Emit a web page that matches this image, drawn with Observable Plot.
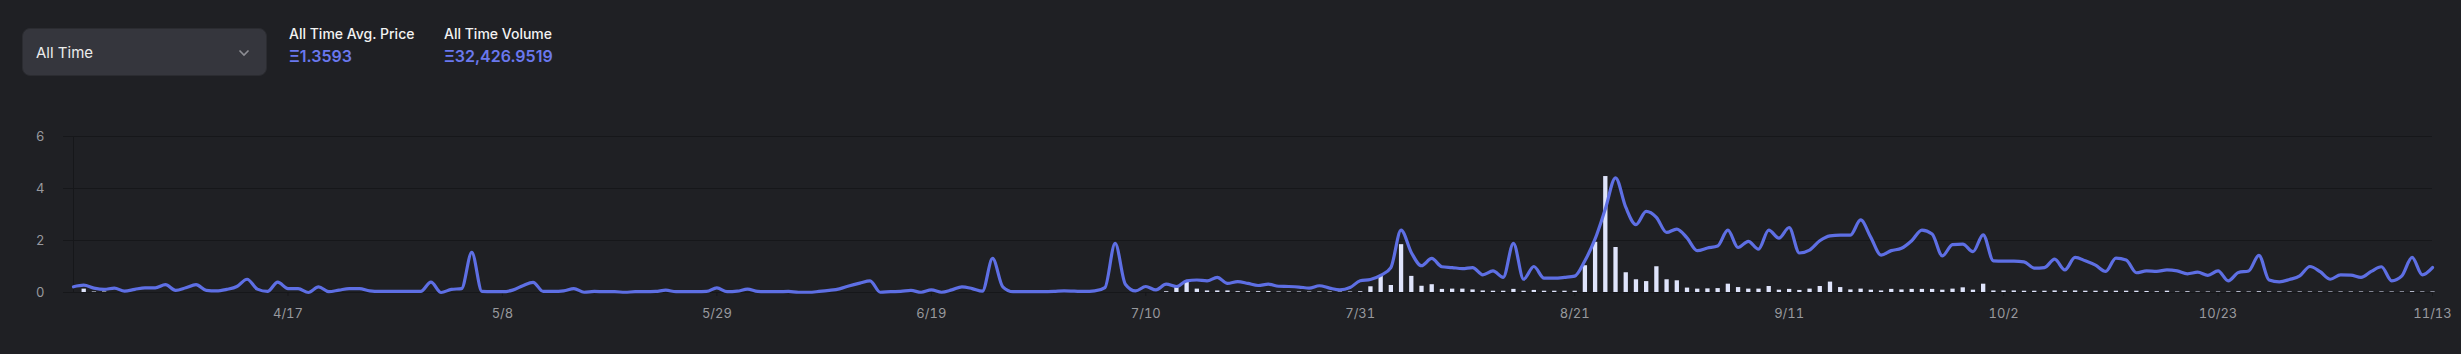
<!DOCTYPE html>
<html>
<head>
<meta charset="utf-8">
<script src="https://cdn.jsdelivr.net/npm/d3@7"></script>
<script src="https://cdn.jsdelivr.net/npm/@observablehq/plot@0.6"></script>
<style>
  html, body { margin: 0; padding: 0; background: #1f2024; overflow: hidden; }
  body { width: 2461px; height: 354px; position: relative; font-family: Inter, "Open Sans", sans-serif; }
  .dropdown { position: absolute; left: 22px; top: 28px; width: 245px; height: 48px; box-sizing: border-box;
    background: #35363d; border: 1px solid #2b2c31; border-radius: 8px; }
  .dropdown span { position: absolute; left: 13px; top: 14px; font-size: 15px; color: #ececec; line-height: 20px; }
  .dropdown svg { position: absolute; left: 215px; top: 20px; }
  .stat { position: absolute; top: 24px; }
  .stat .lab { font-size: 14px; font-weight: 500; color: #f2f2f2; line-height: 20px; }
  .stat .val { font-size: 16px; font-weight: 600; color: #6a78ee; line-height: 22px; margin-top: 1px; }
  #chart { position: absolute; left: 0; top: 100px; }
</style>
</head>
<body>
<div class="dropdown"><span>All Time</span>
  <svg width="12" height="8" viewBox="0 0 12 8"><path d="M1.5 1.5 L6 6 L10.5 1.5" fill="none" stroke="#8d8e94" stroke-width="1.6"/></svg>
</div>
<div class="stat" style="left:289px"><div class="lab">All Time Avg. Price</div><div class="val">Ξ1.3593</div></div>
<div class="stat" style="left:444px"><div class="lab">All Time Volume</div><div class="val">Ξ32,426.9519</div></div>
<div id="chart"></div>
<script>
const startDate = "2022-03-27";
const xTickDates = ["2022-04-17","2022-05-08","2022-05-29","2022-06-19","2022-07-10","2022-07-31","2022-08-21","2022-09-11","2022-10-02","2022-10-23","2022-11-13"];
const yTicks = [0, 2, 4, 6];

// daily average price (line), one value per day from startDate
const priceValues = [
  0.22,0.28,0.17,0.12,0.17,0.05,0.12,0.18,0.18,0.30,
  0.08,0.18,0.30,0.08,0.06,0.12,0.23,0.51,0.13,0.04,
  0.40,0.15,0.15,0.00,0.22,0.03,0.09,0.15,0.15,0.06,
  0.04,0.04,0.04,0.04,0.04,0.40,0.00,0.12,0.15,1.54,
  0.04,0.03,0.03,0.09,0.26,0.39,0.04,0.04,0.06,0.15,
  0.01,0.04,0.03,0.03,0.01,0.03,0.03,0.04,0.09,0.03,
  0.03,0.03,0.04,0.18,0.03,0.05,0.13,0.04,0.03,0.03,
  0.04,0.01,0.01,0.04,0.08,0.14,0.26,0.36,0.45,0.01,
  0.03,0.04,0.08,0.01,0.10,0.01,0.10,0.22,0.15,0.05,
  1.31,0.22,0.03,0.03,0.03,0.03,0.04,0.06,0.05,0.04,
  0.06,0.19,1.89,0.32,0.06,0.23,0.10,0.32,0.23,0.45,
  0.48,0.45,0.58,0.35,0.42,0.35,0.27,0.32,0.24,0.23,
  0.21,0.17,0.26,0.17,0.10,0.19,0.45,0.50,0.66,0.96,
  2.40,1.54,1.03,1.31,0.99,0.96,0.92,0.96,0.68,0.83,
  0.58,1.89,0.51,1.00,0.55,0.55,0.58,0.63,1.22,2.06,
  3.21,4.41,3.28,2.61,3.12,2.89,2.31,2.44,2.10,1.61,
  1.71,1.79,2.40,1.73,1.97,1.67,2.40,2.09,2.50,1.52,
  1.63,1.99,2.18,2.21,2.21,2.79,2.12,1.44,1.61,1.70,
  1.99,2.40,2.25,1.41,1.84,1.86,1.57,2.22,1.22,1.21,
  1.21,1.18,0.94,0.96,1.28,0.87,1.35,1.22,1.05,0.81,
  1.32,1.25,0.76,0.83,0.81,0.87,0.83,0.72,0.78,0.66,
  0.83,0.45,0.77,0.83,1.43,0.48,0.41,0.50,0.64,1.00,
  0.80,0.51,0.68,0.67,0.58,0.81,0.99,0.45,0.64,1.35,
  0.68,0.96
];

// daily volume (bars), same days
const volumeValues = [
  0,0.13,0.02,0.02,0,0,0,0,0,0,
  0,0,0,0,0,0,0,0,0,0,
  0,0,0,0,0,0,0,0,0,0,
  0,0,0,0,0,0,0,0,0,0,
  0,0,0,0,0,0,0,0,0,0,
  0,0,0,0,0,0,0,0,0,0,
  0,0,0,0,0,0,0,0,0,0,
  0,0,0,0,0,0,0,0,0,0,
  0,0,0,0,0,0,0,0,0,0,
  0,0,0,0,0,0,0,0,0,0,
  0,0,0,0,0,0,0,0.03,0.19,0.39,
  0.13,0.06,0.06,0.06,0.03,0.03,0.03,0.04,0.02,0.02,
  0.02,0.02,0.02,0.02,0.02,0.02,0.03,0.22,0.64,0.27,
  1.84,0.62,0.24,0.30,0.12,0.13,0.13,0.10,0.06,0.05,
  0.05,0.12,0.05,0.08,0.05,0.05,0.05,0.05,1.03,1.93,
  4.46,1.73,0.76,0.49,0.42,0.99,0.49,0.45,0.17,0.13,
  0.14,0.15,0.32,0.19,0.13,0.13,0.23,0.09,0.12,0.08,
  0.13,0.23,0.40,0.19,0.10,0.13,0.09,0.06,0.12,0.10,
  0.12,0.12,0.12,0.09,0.13,0.18,0.09,0.32,0.06,0.06,
  0.06,0.05,0.05,0.05,0.06,0.05,0.06,0.05,0.05,0.05,
  0.05,0.05,0.05,0.04,0.03,0.05,0.02,0.03,0.02,0.02,
  0.02,0.02,0.03,0.02,0.03,0.02,0.02,0.02,0.02,0.02,
  0.02,0.02,0.02,0.02,0.02,0.02,0.02,0.02,0.02,0.03,
  0.02,0.02
];

const start = new Date(startDate);
const n = Math.min(priceValues.length, volumeValues.length);
const rows = [];
for (let i = 0; i < n; i++) {
  rows.push({date: d3.utcDay.offset(start, i), price: priceValues[i], volume: volumeValues[i]});
}
const ticks = xTickDates.map(s => new Date(s));
const gridColor = "#16171a";
const labelColor = "#98999e";

const chart = Plot.plot({
  width: 2461,
  height: 254,
  marginLeft: 73,
  marginRight: 29,
  marginTop: 36,
  marginBottom: 62,
  style: {background: "transparent", fontFamily: "Inter, 'Open Sans', sans-serif", fontSize: "13px", color: labelColor},
  x: {type: "utc", domain: [rows[0].date, rows[n - 1].date]},
  y: {domain: [0, 6]},
  marks: [
    Plot.gridY(yTicks, {stroke: gridColor, strokeOpacity: 1, strokeWidth: 1}),
    Plot.ruleX([rows[0].date], {stroke: gridColor, strokeWidth: 1}),
    Plot.axisY(yTicks, {tickSize: 10, tickPadding: 19, stroke: gridColor, fill: labelColor, label: null}),
    Plot.axisX(ticks, {tickSize: 4, tickPadding: 12, stroke: gridColor, fill: labelColor, label: null, tickFormat: d3.utcFormat("%-m/%-d")}),
    Plot.ruleX(rows, {filter: d => d.volume > 0, x: "date", y1: 0, y2: "volume", stroke: "#dfe4fb", strokeWidth: 4.3}),
    Plot.line(rows, {x: "date", y: "price", stroke: "#5e6fe4", strokeWidth: 3.2, curve: "monotone-x", strokeLinejoin: "round"})
  ]
});
document.getElementById("chart").appendChild(chart);
</script>
</body>
</html>
